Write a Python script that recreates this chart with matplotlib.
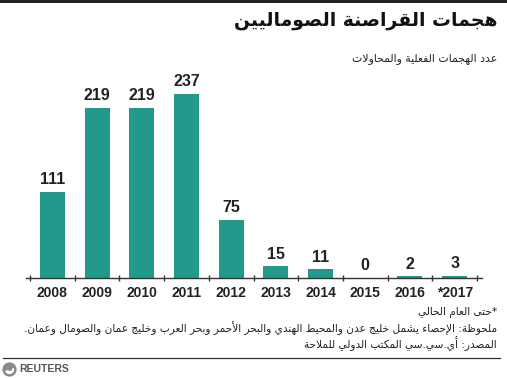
import matplotlib
matplotlib.use('Agg')
import matplotlib.pyplot as plt
from matplotlib.patches import Circle, Wedge, Rectangle
from matplotlib.lines import Line2D

# ---------------- data ----------------
years = ['2008', '2009', '2010', '2011', '2012', '2013', '2014', '2015', '2016', '*2017']
attacks = [111, 219, 219, 237, 75, 15, 11, 0, 2, 3]

title_text = 'هجمات القراصنة الصوماليين'
subtitle_text = 'عدد الهجمات الفعلية والمحاولات'
note_lines = [
    '*حتى العام الحالي',
    'ملحوظة: الإحصاء يشمل خليج عدن والمحيط الهندي والبحر الأحمر وبحر العرب وخليج عمان والصومال وعمان.',
    'المصدر: أي.سي.سي المكتب الدولي للملاحة',
]
brand_text = 'REUTERS'

# ---------------- minimal Arabic shaping (presentation forms) ----------------
_ranges = [('\u0621', 0xFE80, 1), ('\u0622', 0xFE81, 2), ('\u0623', 0xFE83, 2), ('\u0624', 0xFE85, 2),
           ('\u0625', 0xFE87, 2), ('\u0626', 0xFE89, 4), ('\u0627', 0xFE8D, 2), ('\u0628', 0xFE8F, 4),
           ('\u0629', 0xFE93, 2), ('\u062A', 0xFE95, 4), ('\u062B', 0xFE99, 4), ('\u062C', 0xFE9D, 4),
           ('\u062D', 0xFEA1, 4), ('\u062E', 0xFEA5, 4), ('\u062F', 0xFEA9, 2), ('\u0630', 0xFEAB, 2),
           ('\u0631', 0xFEAD, 2), ('\u0632', 0xFEAF, 2), ('\u0633', 0xFEB1, 4), ('\u0634', 0xFEB5, 4),
           ('\u0635', 0xFEB9, 4), ('\u0636', 0xFEBD, 4), ('\u0637', 0xFEC1, 4), ('\u0638', 0xFEC5, 4),
           ('\u0639', 0xFEC9, 4), ('\u063A', 0xFECD, 4), ('\u0641', 0xFED1, 4), ('\u0642', 0xFED5, 4),
           ('\u0643', 0xFED9, 4), ('\u0644', 0xFEDD, 4), ('\u0645', 0xFEE1, 4), ('\u0646', 0xFEE5, 4),
           ('\u0647', 0xFEE9, 4), ('\u0648', 0xFEED, 2), ('\u0649', 0xFEEF, 2), ('\u064A', 0xFEF1, 4)]
FORMS = {c: tuple(chr(s + k) for k in range(n)) for c, s, n in _ranges}
LAM_ALEF = {'\u0622': ('\uFEF5', '\uFEF6'), '\u0623': ('\uFEF7', '\uFEF8'),
            '\u0625': ('\uFEF9', '\uFEFA'), '\u0627': ('\uFEFB', '\uFEFC')}


def rtl(s):
    toks = []
    i = 0
    while i < len(s):
        c = s[i]
        if c == '\u0644' and i + 1 < len(s) and s[i + 1] in LAM_ALEF:
            toks.append(LAM_ALEF[s[i + 1]])
            i += 2
        elif c in FORMS:
            toks.append(FORMS[c])
            i += 1
        else:
            toks.append(c)
            i += 1
    out = []
    for j, t in enumerate(toks):
        if isinstance(t, tuple):
            p = j > 0 and isinstance(toks[j - 1], tuple) and len(toks[j - 1]) == 4
            nx = (len(t) == 4 and j + 1 < len(toks) and isinstance(toks[j + 1], tuple)
                  and len(toks[j + 1]) >= 2)
            if p and nx:
                g = t[3]
            elif p:
                g = t[1]
            elif nx:
                g = t[2]
            else:
                g = t[0]
            out.append(g)
        else:
            out.append(t)
    return ''.join(reversed(out))


# ---------------- figure ----------------
W, H = 507, 378
fig = plt.figure(figsize=(W / 100, H / 100), dpi=100)
fig.patch.set_facecolor('white')

AR = ['DejaVu Sans']
NUM = ['Liberation Sans', 'DejaVu Sans']
bar_color = '#21998b'

# axes geometry (pixels)
ax_left, ax_right = 26, 482
base_y, top_y = 278, 80
ax = fig.add_axes([ax_left / W, 1 - base_y / H, (ax_right - ax_left) / W, (base_y - top_y) / H])
ax.set_facecolor('none')

x = list(range(len(years)))
ax.bar(x, attacks, width=0.56, color=bar_color, zorder=2)
for xi, v in zip(x, attacks):
    ax.annotate(str(v), (xi, v), xytext=(0, 3.5), textcoords='offset points',
                ha='center', va='bottom', fontsize=11.5, fontweight='bold',
                family=NUM, color='#222222')

span = ax_right - ax_left
# category unit = 44.7 px; -0.5 at pixel 30
unit = 44.7
xmin = -0.5 - (30 - ax_left) / unit
ax.set_xlim(xmin, xmin + span / unit)
ax.set_ylim(0, (base_y - top_y) / 0.775)

for s in ['top', 'right', 'left']:
    ax.spines[s].set_visible(False)
ax.spines['bottom'].set_color('#333333')
ax.spines['bottom'].set_linewidth(1.0)
ax.set_yticks([])

ax.set_xticks([i - 0.5 for i in range(len(years) + 1)])
ax.set_xticklabels([])
ax.tick_params(axis='x', which='major', direction='inout', length=4.5, width=1, color='#333333')
ax.set_xticks(x, minor=True)
ax.set_xticklabels(years, minor=True, fontsize=10, fontweight='bold', family=NUM, color='#222222')
ax.tick_params(axis='x', which='minor', length=0, pad=6)

# top rule
fig.add_artist(Rectangle((0, 1 - 3 / H), 1, 3 / H, transform=fig.transFigure,
                         facecolor='#222222', edgecolor='none'))

# title & subtitle
fig.text(497 / W, 1 - 21 / H, rtl(title_text), ha='right', va='center',
         fontsize=13.5, fontweight='bold', family=AR, color='#111111')
fig.text(497 / W, 1 - 59 / H, rtl(subtitle_text), ha='right', va='center',
         fontsize=7.8, family=AR, color='#222222')

# notes
for yy, line in zip([312, 328, 344], note_lines):
    fig.text(497 / W, 1 - yy / H, rtl(line), ha='right', va='center',
             fontsize=7.6, family=AR, color='#222222')

# bottom rule
fig.add_artist(Line2D([3 / W, 500 / W], [1 - 357.5 / H, 1 - 357.5 / H], transform=fig.transFigure,
                      color='#333333', linewidth=0.9))

# Reuters logo
lax = fig.add_axes([2 / W, 1 - 377 / H, 15 / W, 15 / H])
lax.set_xlim(-1, 1)
lax.set_ylim(-1, 1)
lax.set_aspect('equal')
lax.axis('off')
lax.add_patch(Circle((0, 0), 0.95, facecolor='#8a8a8a', edgecolor='none'))
lax.add_patch(Wedge((0, 0), 0.62, 200, 20, facecolor='white', edgecolor='none'))
lax.add_patch(Circle((0.05, 0.12), 0.32, facecolor='#8a8a8a', edgecolor='none'))
fig.text(19 / W, 1 - 369.5 / H, brand_text, ha='left', va='center', fontsize=7.5,
         fontweight='bold', family=['Liberation Sans', 'DejaVu Sans'], color='#555555')

fig.savefig('out.png', dpi=100, facecolor='white')
